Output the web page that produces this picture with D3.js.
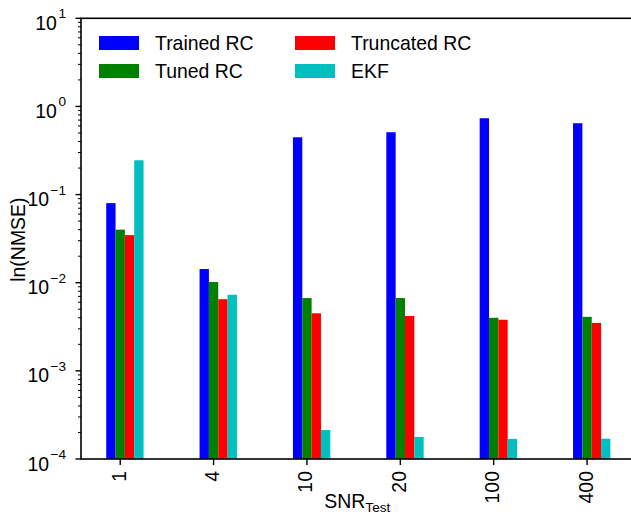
<!DOCTYPE html>
<html>
<head>
<meta charset="utf-8">
<script src="https://cdn.jsdelivr.net/npm/d3@7"></script>
<style>
  html, body { margin: 0; padding: 0; background: #fff; }
  svg { display: block; }
  text { font-family: "Liberation Sans", Arial, sans-serif; fill: #000; }
</style>
</head>
<body>
<script>
// ---- data ----
const categories = ["1", "4", "10", "20", "100", "400"];
const seriesNames = ["Trained RC", "Tuned RC", "Truncated RC", "EKF"];
const seriesColors = ["#0000ff", "#008000", "#ff0000", "#00bfbf"];
const trainedRC   = [0.080, 0.0143, 0.447, 0.51, 0.735, 0.645];
const tunedRC     = [0.040, 0.0102, 0.0067, 0.0067, 0.0040, 0.0041];
const truncatedRC = [0.0347, 0.0065, 0.0045, 0.0042, 0.0038, 0.0035];
const ekf         = [0.245, 0.0073, 0.000213, 0.000178, 0.000169, 0.000170];
const yTickExps = [-4, -3, -2, -1, 0, 1];

const series = [trainedRC, tunedRC, truncatedRC, ekf];

const W = 631, H = 516;
const FS = 19.44, SUP = 13.6;
const svg = d3.select("body").append("svg").attr("width", W).attr("height", H);

const pLeft = 81, pRight = 635.6, pTop = 18.3, pBottom = 459;
const barW = 0.1;
const x = d3.scaleLinear().domain([-0.42, 5.52]).range([pLeft, pRight]);
const y = d3.scaleLog().domain([1e-4, 10]).range([pBottom, pTop]);

// bars
series.forEach((vals, s) => {
  svg.append("g").selectAll("rect").data(vals).join("rect")
    .attr("x", (d, i) => x(i + (s - 1) * barW - barW / 2))
    .attr("width", x(barW) - x(0))
    .attr("y", d => y(d))
    .attr("height", d => y(1e-4) - y(d))
    .attr("fill", seriesColors[s]);
});

// spines
svg.append("rect").attr("x", pLeft).attr("y", pTop)
  .attr("width", pRight - pLeft).attr("height", pBottom - pTop)
  .attr("fill", "none").attr("stroke", "#000").attr("stroke-width", 1.6);

// y ticks
const minor = [];
for (let e = -4; e < 1; e++) for (let m = 2; m <= 9; m++) minor.push(m * Math.pow(10, e));
svg.append("g").selectAll("line").data(minor).join("line")
  .attr("x1", pLeft).attr("x2", pLeft - 3)
  .attr("y1", d => y(d)).attr("y2", d => y(d))
  .attr("stroke", "#000").attr("stroke-width", 1);
svg.append("g").selectAll("line").data(yTickExps).join("line")
  .attr("x1", pLeft).attr("x2", pLeft - 5.5)
  .attr("y1", d => y(Math.pow(10, d))).attr("y2", d => y(Math.pow(10, d)))
  .attr("stroke", "#000").attr("stroke-width", 1.4);
const yl = svg.append("g").selectAll("text").data(yTickExps).join("text")
  .attr("x", 66).attr("y", d => y(Math.pow(10, d)) + 11.5)
  .attr("text-anchor", "end").style("font-size", FS + "px");
yl.append("tspan").text("10");
yl.append("tspan").attr("dy", -11.5).attr("dx", 1.5).style("font-size", SUP + "px")
  .text(d => (d < 0 ? "\u2212" + (-d) : "" + d));

// x ticks
svg.append("g").selectAll("line").data(categories).join("line")
  .attr("x1", (d, i) => x(i)).attr("x2", (d, i) => x(i))
  .attr("y1", pBottom).attr("y2", pBottom + 6)
  .attr("stroke", "#000").attr("stroke-width", 1.4);
svg.append("g").selectAll("text").data(categories).join("text")
  .attr("transform", (d, i) => `translate(${x(i) + 5.5},${471}) rotate(-90)`)
  .attr("text-anchor", "end").style("font-size", FS + "px")
  .text(d => d);

// axis labels
const xlab = svg.append("text").attr("x", (pLeft + pRight) / 2 - 1).attr("y", 508)
  .attr("text-anchor", "middle").style("font-size", FS + "px");
xlab.append("tspan").text("SNR");
xlab.append("tspan").attr("dy", 4).style("font-size", SUP + "px").text("Test");

svg.append("text").attr("transform", `translate(25,${(pTop + pBottom) / 2 + 1}) rotate(-90)`)
  .attr("text-anchor", "middle").style("font-size", FS + "px").text("ln(NMSE)");

// legend
const legPos = [[99, 36], [99, 64], [295, 36], [295, 64]];
seriesNames.forEach((name, s) => {
  const [lx, ly] = legPos[s];
  svg.append("rect").attr("x", lx).attr("y", ly).attr("width", 40).attr("height", 14)
    .attr("fill", seriesColors[s]);
  svg.append("text").attr("x", lx + 56).attr("y", ly + 14)
    .style("font-size", FS + "px").text(name);
});
</script>
</body>
</html>
